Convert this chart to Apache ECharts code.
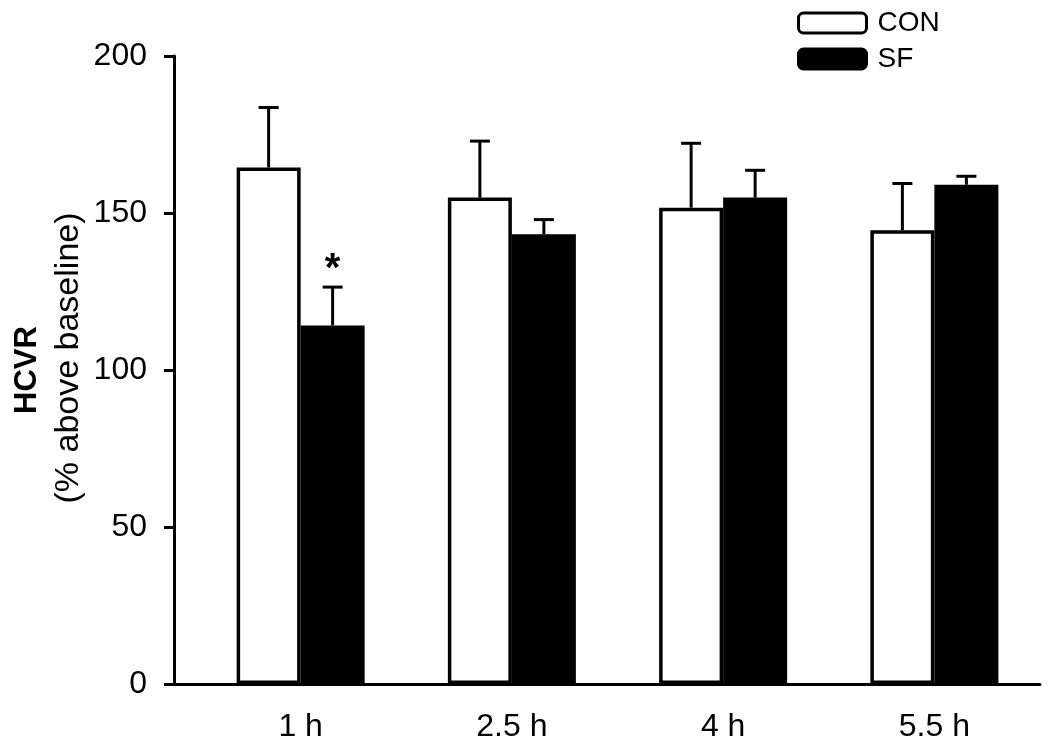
<!DOCTYPE html>
<html>
<head>
<meta charset="utf-8">
<script src="https://cdn.jsdelivr.net/npm/echarts@6/dist/echarts.min.js"></script>
<style>html,body{margin:0;padding:0;background:#fff;}#c{width:1050px;height:752px;}</style>
</head>
<body>
<div id="c"></div>
<script>
const categories = ['1 h', '2.5 h', '4 h', '5.5 h'];
const conMean = [164.5, 154.9, 151.7, 144.5];
const conSem = [19.1, 18.0, 20.5, 14.9];
const sfMean = [114.2, 143.2, 154.9, 159.0];
const sfSem = [12.2, 4.7, 8.7, 2.7];
const sfMarks = ['*', '', '', ''];
const yTicks = [0, 50, 100, 150, 200];

const FONT = 'Liberation Sans, Arial, Helvetica, sans-serif';
const chart = echarts.init(document.getElementById('c'), null, {renderer: 'canvas'});

function errSeries(name, means, sems, offset, marks) {
  return {
    type: 'custom',
    name: name + ' err',
    xAxisIndex: 1, yAxisIndex: 1,
    z: 5,
    data: means.map((m, i) => [i, m, sems[i]]),
    renderItem: function (params, api) {
      const i = api.value(0), m = api.value(1), s = api.value(2);
      const p0 = api.coord([i, m]);
      const p1 = api.coord([i, m + s]);
      const x = p0[0] + offset;
      const children = [
        {type: 'line', shape: {x1: x, y1: p0[1], x2: x, y2: p1[1]}, style: {stroke: '#000', lineWidth: 3}},
        {type: 'line', shape: {x1: x - 10, y1: p1[1], x2: x + 10, y2: p1[1]}, style: {stroke: '#000', lineWidth: 3}}
      ];
      const mk = marks ? marks[params.dataIndex] : '';
      if (mk) {
        children.push({type: 'text', style: {text: mk, x: x, y: p1[1] - 17, align: 'center', verticalAlign: 'middle', font: 'bold 40px ' + FONT, fill: '#000'}});
      }
      return {type: 'group', children: children};
    }
  };
}

const option = {
  backgroundColor: '#fff',
  animation: false,
  grid: [
    {left: 174, right: 10, top: 56, bottom: 68},
    {left: 195, right: 10, top: 56, bottom: 68}
  ],
  legend: {
    orient: 'vertical',
    left: 792, top: 4,
    itemWidth: 68, itemHeight: 20, itemGap: 8,
    icon: 'roundRect',
    itemStyle: {borderWidth: 3, borderColor: '#000'},
    data: ['CON', 'SF'],
    textStyle: {fontFamily: FONT, fontSize: 28, color: '#000', lineHeight: 28, padding: [0, 0, 0, 6]}
  },
  xAxis: [
    {type: 'value', gridIndex: 0, min: 0, max: 1,
     axisLine: {show: true, lineStyle: {color: '#000', width: 3}},
     axisTick: {show: false}, axisLabel: {show: false}, splitLine: {show: false}},
    {type: 'category', gridIndex: 1, data: categories,
     axisLine: {show: false}, axisTick: {show: false},
     axisLabel: {fontFamily: FONT, fontSize: 32, color: '#000', margin: 27}}
  ],
  yAxis: [
    {type: 'value', gridIndex: 0, min: 0, max: 200, interval: 50,
     axisLine: {show: true, lineStyle: {color: '#000', width: 3}},
     axisTick: {show: true, inside: false, length: 10, lineStyle: {color: '#000', width: 3}},
     axisLabel: {fontFamily: FONT, fontSize: 32, color: '#000', margin: 27,
       formatter: v => (yTicks.indexOf(v) >= 0 ? String(v) : '')},
     splitLine: {show: false}},
    {type: 'value', gridIndex: 1, min: 0, max: 200, show: false}
  ],
  graphic: [
    {type: 'text', x: 27, y: 370, rotation: Math.PI / 2,
     style: {text: 'HCVR', font: 'bold 31px ' + FONT, fill: '#000', align: 'center', verticalAlign: 'middle', x: 0, y: 0}},
    {type: 'text', x: 69, y: 358, rotation: Math.PI / 2,
     style: {text: '(% above baseline)', font: '34px ' + FONT, fill: '#000', align: 'center', verticalAlign: 'middle', x: 0, y: 0}}
  ],
  series: [
    {type: 'bar', name: 'CON', xAxisIndex: 1, yAxisIndex: 1, data: conMean,
     barWidth: 64, barGap: '0%', z: 3,
     itemStyle: {color: '#fff', borderColor: '#000', borderWidth: 3.5}},
    {type: 'bar', name: 'SF', xAxisIndex: 1, yAxisIndex: 1, data: sfMean,
     barWidth: 64, barGap: '0%', z: 3,
     itemStyle: {color: '#000', borderColor: '#000', borderWidth: 3.5}},
    errSeries('CON', conMean, conSem, -32, null),
    errSeries('SF', sfMean, sfSem, 32, sfMarks)
  ]
};
chart.setOption(option);
</script>
</body>
</html>
